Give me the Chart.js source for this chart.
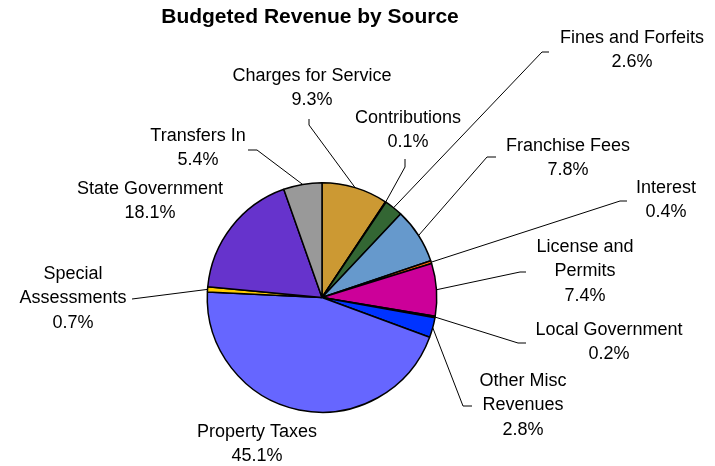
<!DOCTYPE html>
<html lang="en">
<head>
    <meta charset="UTF-8">
    <title>Budgeted Revenue by Source</title>
    <script src="https://cdn.jsdelivr.net/npm/chart.js"></script>
    <style>
        html, body { margin: 0; padding: 0; background: #fff; }
        #wrap { width: 715px; height: 466px; position: relative; }
    </style>
</head>
<body>
    <div id="wrap"><canvas id="grafico" width="715" height="466"></canvas></div>

    <script>
        // Revenue sources (percent of budget), clockwise from the top
        const categories = [
            'Charges for Service', 'Contributions', 'Fines and Forfeits', 'Franchise Fees',
            'Interest', 'License and Permits', 'Local Government', 'Other Misc Revenues',
            'Property Taxes', 'Special Assessments', 'State Government', 'Transfers In'
        ];
        const shares = [9.3, 0.1, 2.6, 7.8, 0.4, 7.4, 0.2, 2.8, 45.1, 0.7, 18.1, 5.4];
        const sliceColors = [
            '#CC9933', '#7F3F5F', '#336633', '#6699CC',
            '#FF6600', '#CC0099', '#202060', '#0033FF',
            '#6666FF', '#FFCC00', '#6633CC', '#999999'
        ];

        // where each caption sits: text lines, centre x, first line y, leader elbow + tick end
        const labelSpots = [
            { lines: ['Charges for Service'], x: 312, y: 76, elbow: [309, 125], tick: [309, 119] },
            { lines: ['Contributions'], x: 408, y: 118, elbow: [405, 167], tick: [405, 159] },
            { lines: ['Fines and Forfeits'], x: 632, y: 38, elbow: [542, 52], tick: [549, 52] },
            { lines: ['Franchise Fees'], x: 568, y: 146, elbow: [487, 157], tick: [496, 157] },
            { lines: ['Interest'], x: 666, y: 188, elbow: [620, 201], tick: [627, 201] },
            { lines: ['License and', 'Permits'], x: 585, y: 247, elbow: [520, 272], tick: [526, 272] },
            { lines: ['Local Government'], x: 609, y: 330, elbow: [518, 343], tick: [526, 343] },
            { lines: ['Other Misc', 'Revenues'], x: 523, y: 381, elbow: [463, 406], tick: [472, 406] },
            { lines: ['Property Taxes'], x: 257, y: 432 },
            { lines: ['Special', 'Assessments'], x: 73, y: 274, elbow: [132, 299], tick: [132, 299] },
            { lines: ['State Government'], x: 150, y: 189 },
            { lines: ['Transfers In'], x: 198, y: 136, elbow: [257, 150], tick: [248, 150] }
        ];

        const FONT = '"Liberation Sans", Arial, sans-serif';

        // title, captions and leader lines
        const labelPlugin = {
            id: 'leaderLabels',
            afterDatasetsDraw(chart) {
                const ctx = chart.ctx;
                const arcs = chart.getDatasetMeta(0).data;
                ctx.save();

                ctx.fillStyle = '#000';
                ctx.textAlign = 'center';
                ctx.textBaseline = 'middle';
                ctx.font = 'bold 21px ' + FONT;
                ctx.fillText('Budgeted Revenue by Source', 310, 17);

                ctx.font = '18px ' + FONT;
                ctx.strokeStyle = '#000';
                ctx.lineWidth = 1;
                labelSpots.forEach((spot, i) => {
                    const lines = spot.lines.concat([shares[i].toFixed(1) + '%']);
                    lines.forEach((t, k) => ctx.fillText(t, spot.x, spot.y + k * 24.5));

                    if (spot.elbow) {
                        const a = arcs[i];
                        const mid = (a.startAngle + a.endAngle) / 2;
                        const sx = a.x + Math.cos(mid) * a.outerRadius;
                        const sy = a.y + Math.sin(mid) * a.outerRadius;
                        ctx.beginPath();
                        ctx.moveTo(sx, sy);
                        ctx.lineTo(spot.elbow[0], spot.elbow[1]);
                        ctx.lineTo(spot.tick[0], spot.tick[1]);
                        ctx.stroke();
                    }
                });
                ctx.restore();
            }
        };

        new Chart(document.getElementById('grafico'), {
            type: 'pie',
            data: {
                labels: categories,
                datasets: [{
                    data: shares,
                    backgroundColor: sliceColors,
                    borderColor: '#000',
                    borderWidth: 1.5
                }]
            },
            options: {
                responsive: false,
                animation: false,
                layout: {
                    padding: { left: 206, right: 277, top: 182, bottom: 53 }
                },
                plugins: {
                    legend: { display: false },
                    tooltip: { enabled: false }
                }
            },
            plugins: [labelPlugin]
        });
    </script>
</body>
</html>
